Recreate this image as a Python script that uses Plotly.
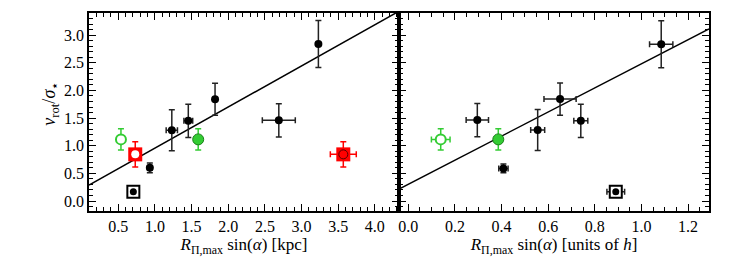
import plotly.graph_objects as go

# ---------------- data ----------------
# Left panel: R_max sin(alpha) [kpc]
L_black_x = [0.93, 1.23, 1.455, 1.82, 2.69, 3.23]
L_black_y = [0.60, 1.28, 1.45, 1.84, 1.46, 2.84]
L_black_xerr = [0.03, 0.077, 0.06, 0.0, 0.225, 0.0]
L_black_yerr = [0.09, 0.37, 0.30, 0.29, 0.30, 0.425]

L_gopen_x, L_gopen_y, L_gopen_yerr = [0.536], [1.115], [0.19]
L_gfill_x, L_gfill_y, L_gfill_yerr = [1.59], [1.115], [0.19]
L_ropen_x, L_ropen_y, L_ropen_yerr = [0.731], [0.844], [0.23]
L_rfill_x, L_rfill_y, L_rfill_xerr, L_rfill_yerr = [3.57], [0.844], [0.177], [0.23]
L_bsq_x, L_bsq_y = [0.705], [0.169]

L_fit_slope, L_fit_intercept = 0.743, 0.215
L_fit_x = [0.1, 4.33]

# Right panel: R_max sin(alpha) [units of h]
R_black_x = [0.296, 0.408, 0.555, 0.651, 0.74, 1.085]
R_black_y = [1.464, 0.59, 1.283, 1.843, 1.45, 2.837]
R_black_xerr = [0.048, 0.02, 0.03, 0.069, 0.03, 0.05]
R_black_yerr = [0.30, 0.08, 0.37, 0.29, 0.30, 0.425]

R_gopen_x, R_gopen_y, R_gopen_xerr, R_gopen_yerr = [0.139], [1.115], [0.04], [0.19]
R_gfill_x, R_gfill_y, R_gfill_yerr = [0.386], [1.115], [0.19]
R_bsq_x, R_bsq_y, R_bsq_xerr = [0.89], [0.169], [0.038]

R_fit_slope, R_fit_intercept = 2.18, 0.302
R_fit_x = [-0.04, 1.29]

# ---------------- styles ----------------
BLACK = "#000000"
EBLK = "#222222"
GREEN = "#33cc33"
GREEN_EDGE = "#1a801a"
RED = "#ff0000"
FONT = "Liberation Serif, Times New Roman, serif"

fig = go.Figure()


def eb(arr, color, width=3):
    return dict(type="data", array=arr, color=color, thickness=1.5, width=width, visible=True)


def add_panel(xa, ya, fit_x, slope, intercept):
    fig.add_trace(go.Scatter(x=fit_x, y=[intercept + slope * v for v in fit_x],
                             mode="lines", line=dict(color=BLACK, width=1.5),
                             xaxis=xa, yaxis=ya, hoverinfo="skip"))


# left panel
add_panel("x", "y", L_fit_x, L_fit_slope, L_fit_intercept)
fig.add_trace(go.Scatter(x=L_black_x, y=L_black_y, mode="markers",
                         marker=dict(color=BLACK, size=8),
                         error_x=eb(L_black_xerr, EBLK), error_y=eb(L_black_yerr, EBLK)))
fig.add_trace(go.Scatter(x=L_gopen_x, y=L_gopen_y, mode="markers",
                         marker=dict(color="white", size=10, line=dict(color=GREEN, width=2)),
                         error_y=eb(L_gopen_yerr, GREEN)))
fig.add_trace(go.Scatter(x=L_gfill_x, y=L_gfill_y, mode="markers",
                         marker=dict(color=GREEN, size=11, line=dict(color=GREEN_EDGE, width=1)),
                         error_y=eb(L_gfill_yerr, GREEN)))
fig.add_trace(go.Scatter(x=L_ropen_x, y=L_ropen_y, mode="markers",
                         marker=dict(color=RED, size=14, symbol="square"),
                         error_y=eb(L_ropen_yerr, RED)))
fig.add_trace(go.Scatter(x=L_ropen_x, y=L_ropen_y, mode="markers",
                         marker=dict(color="white", size=8)))
fig.add_trace(go.Scatter(x=L_rfill_x, y=L_rfill_y, mode="markers",
                         marker=dict(color=RED, size=14, symbol="square"),
                         error_x=eb(L_rfill_xerr, RED), error_y=eb(L_rfill_yerr, RED)))
fig.add_trace(go.Scatter(x=L_rfill_x, y=L_rfill_y, mode="markers",
                         marker=dict(color=RED, size=9, line=dict(color="#550000", width=1))))
fig.add_trace(go.Scatter(x=L_bsq_x, y=L_bsq_y, mode="markers",
                         marker=dict(color="white", size=12, symbol="square",
                                     line=dict(color=BLACK, width=2))))
fig.add_trace(go.Scatter(x=L_bsq_x, y=L_bsq_y, mode="markers",
                         marker=dict(color=BLACK, size=7)))

# right panel
add_panel("x2", "y2", R_fit_x, R_fit_slope, R_fit_intercept)
fig.add_trace(go.Scatter(x=R_black_x, y=R_black_y, mode="markers", xaxis="x2", yaxis="y2",
                         marker=dict(color=BLACK, size=8),
                         error_x=eb(R_black_xerr, EBLK), error_y=eb(R_black_yerr, EBLK)))
fig.add_trace(go.Scatter(x=R_gopen_x, y=R_gopen_y, mode="markers", xaxis="x2", yaxis="y2",
                         marker=dict(color="white", size=10, line=dict(color=GREEN, width=2)),
                         error_x=eb(R_gopen_xerr, GREEN), error_y=eb(R_gopen_yerr, GREEN)))
fig.add_trace(go.Scatter(x=R_gfill_x, y=R_gfill_y, mode="markers", xaxis="x2", yaxis="y2",
                         marker=dict(color=GREEN, size=11, line=dict(color=GREEN_EDGE, width=1)),
                         error_y=eb(R_gfill_yerr, GREEN)))
fig.add_trace(go.Scatter(x=R_bsq_x, y=R_bsq_y, mode="markers", xaxis="x2", yaxis="y2",
                         marker=dict(color="white", size=12, symbol="square",
                                     line=dict(color=BLACK, width=2)),
                         error_x=eb(R_bsq_xerr, EBLK)))
fig.add_trace(go.Scatter(x=R_bsq_x, y=R_bsq_y, mode="markers", xaxis="x2", yaxis="y2",
                         marker=dict(color=BLACK, size=7)))

axis_common = dict(showgrid=False, zeroline=False, showline=True, linecolor=BLACK, linewidth=1.5,
                   mirror="allticks", ticks="inside", ticklen=7, tickwidth=1, tickcolor=BLACK,
                   automargin=False,
                   tickfont=dict(family=FONT, size=16, color=BLACK))

# page body has an 8px default margin, so the figure is made 8px smaller
fig.update_layout(
    width=739, height=261,
    margin=dict(l=81, r=38, t=5, b=58),
    paper_bgcolor="white", plot_bgcolor="white",
    showlegend=False,
    font=dict(family=FONT, size=16, color=BLACK),
    xaxis=dict(domain=[0, 0.5], range=[0.1, 4.33], tick0=0, dtick=0.5, tickformat=".1f",
               minor=dict(ticks="inside", ticklen=4, dtick=0.1, tickcolor=BLACK),
               title=dict(text="<i>R</i><sub>Π,max</sub> sin(<i>α</i>) [kpc]", standoff=4,
                          font=dict(family=FONT, size=17)),
               **axis_common),
    xaxis2=dict(domain=[0.5, 1], range=[-0.04, 1.29], tick0=0, dtick=0.2, tickformat=".1f",
                minor=dict(ticks="inside", ticklen=4, dtick=0.05, tickcolor=BLACK),
                title=dict(text="<i>R</i><sub>Π,max</sub> sin(<i>α</i>) [units of <i>h</i>]", standoff=4,
                           font=dict(family=FONT, size=17)),
                anchor="y2", **axis_common),
    yaxis=dict(range=[-0.18, 3.40], tick0=0, dtick=0.5, tickformat=".1f",
               minor=dict(ticks="inside", ticklen=4, dtick=0.1, tickcolor=BLACK),
               **axis_common),
    yaxis2=dict(range=[-0.18, 3.40], tick0=0, dtick=0.5, showticklabels=False, anchor="x2",
                minor=dict(ticks="inside", ticklen=4, dtick=0.1, tickcolor=BLACK),
                **axis_common),
    annotations=[dict(text="<i>v</i><sub>rot</sub>/<i>σ</i><sub>⋆</sub>", textangle=-90,
                      xref="paper", yref="paper", x=-0.062, y=0.54, xanchor="center",
                      yanchor="middle", showarrow=False, font=dict(family=FONT, size=18))],
)

fig.write_html("out.html")
